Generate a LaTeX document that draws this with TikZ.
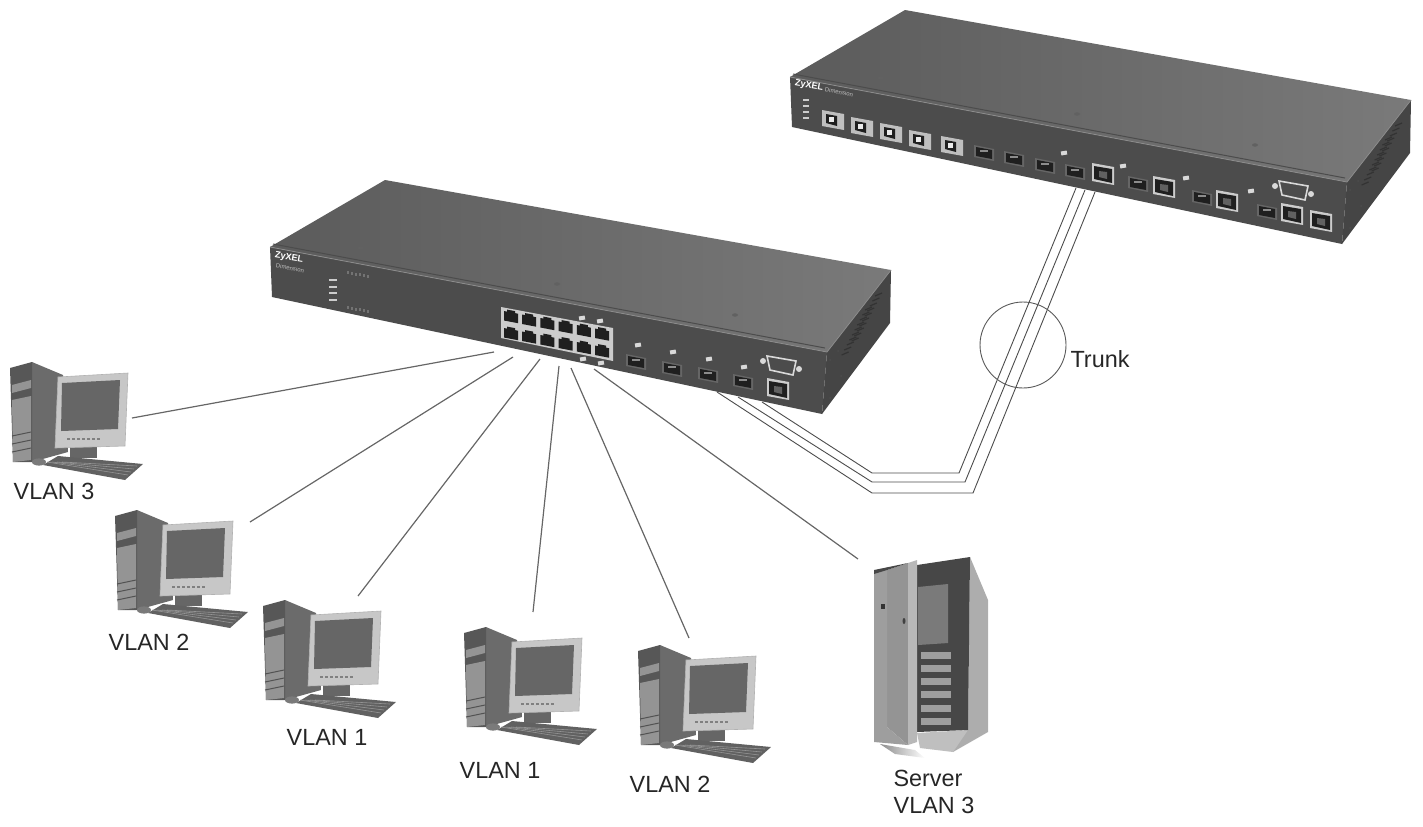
\documentclass[tikz,border=0pt]{standalone}
\usepackage{fontspec}
\setmainfont{Liberation Sans}
\usepackage{tikz}
\usetikzlibrary{calc}
\definecolor{swtop}{gray}{0.42}
\definecolor{swfront}{gray}{0.30}
\definecolor{swside}{gray}{0.27}
\definecolor{portdark}{gray}{0.12}
\definecolor{portframe}{gray}{0.80}
\tikzset{
  cable/.style={draw=black!60,line width=0.6pt},
  trunkline/.style={draw=black!70,line width=0.45pt},
  vlanlabel/.style={font=\fontsize{11.7}{13}\selectfont,text=black!85,inner sep=0pt},
  logotext/.style={font=\bfseries\fontsize{4.6}{5}\selectfont,text=white,inner sep=0pt,rotate=-10},
  tinytext/.style={font=\fontsize{3}{3}\selectfont,text=black!25,inner sep=0pt,rotate=-10},
  tagbox/.style={fill=black!15,minimum width=3pt,minimum height=2pt,inner sep=0pt,rotate=10},
}
% one computer, origin at the top left of the tower
\newcommand{\pcicon}[2]{
  \begin{scope}[shift={(#1,#2)}]
    \fill[black!58] (22,0) -- (53,13) -- (58,90) -- (22,100) -- cycle;
    \fill[black!66] (0,6) -- (22,0) -- (22,100) -- (3,100) -- cycle;
    \fill[black!42] (2,23) -- (21,18) -- (21,26) -- (2,31) -- cycle;
    \fill[black!42] (2,38) -- (21,34) -- (21,98) -- (3,100) -- cycle;
    \foreach \yy in {72,80,88} \draw[black!68,line width=0.5pt] (2,\yy+2) -- (21,\yy-2);
    \fill[black!60] (60,84) rectangle (87,96);
    \fill[black!22,draw=black!30,line width=0.3pt] (48,15) -- (118,11) -- (115,84) -- (45,86) -- cycle;
    \fill[black!60] (52,21) -- (110,18) -- (108,67) -- (51,69) -- cycle;
    \foreach \xx in {57,62,...,88} \fill[black!50] (\xx,76) rectangle ++(3,1.6);
    \fill[black!62] (33,103) -- (48,94) -- (133,102) -- (115,118) -- cycle;
    \foreach \yy in {0,1,2,3} \draw[black!42,line width=0.3pt] ($(37,102)+(\yy*5,-2)$) -- ($(118,113)+(\yy*3,-3*\yy)$);
    \fill[black!52] (29,100) ellipse (7 and 3.6);
  \end{scope}
}
% housing of a switch, origin at the back corner of the top
\newcommand{\switchbox}[2]{
  \begin{scope}[shift={(#1,#2)}]
    \shade[left color=swtop!85!black,right color=swtop!90!white] (0,0) -- (506,90) -- (442,172) -- (-115,67) -- cycle;
    \fill[swfront] (-115,67) -- (442,172) -- (437,234) -- (-113,117) -- cycle;
    \fill[swside] (442,172) -- (506,90) -- (505,143) -- (437,234) -- cycle;
    \draw[black!45,line width=0.4pt] (-115,67) -- (442,172) -- (506,90);
    \draw[black!70,line width=0.5pt] (-112,64) -- (440,168);
    \foreach \kk in {0,1,...,9}
      \draw[black!80,line width=0.6pt] ($(497,113)+(-2.6*\kk,5*\kk)$) -- ++(-7,3);
    \foreach \kk in {0,1,...,9}
      \draw[black!80,line width=0.6pt] ($(487,127)+(-2.6*\kk,5*\kk)$) -- ++(-7,3);
    \foreach \sx/\sy in {-24/68,172/104,350/135} \fill[black!62] (\sx,\sy) ellipse (3 and 1.7);
    \foreach \sx/\sy in {445/180,453/171,456/196,445/218} \fill[black!70] (\sx,\sy) circle (1);
  \end{scope}
}
\newcommand{\sfpport}[2]{
  \fill[black!60] (#1-10,#2-8) -- (#1+10,#2-4) -- (#1+10,#2+8) -- (#1-10,#2+4) -- cycle;
  \fill[portdark] (#1-8,#2-6) -- (#1+8,#2-3) -- (#1+8,#2+6) -- (#1-8,#2+3) -- cycle;
  \fill[black!45] (#1-4,#2-3) rectangle (#1+4,#2-1);
}
\newcommand{\sfpopen}[2]{
  \fill[black!25] (#1-11,#2-10) -- (#1+11,#2-6) -- (#1+11,#2+10) -- (#1-11,#2+6) -- cycle;
  \fill[portdark] (#1-7,#2-6) -- (#1+4,#2-4) -- (#1+4,#2+6) -- (#1-7,#2+3) -- cycle;
  \fill[black!8] (#1-4,#2-3) rectangle (#1+1,#2+2);
}
\newcommand{\rjport}[2]{
  \fill[portframe] (#1-11,#2-11) -- (#1+11,#2-7) -- (#1+11,#2+11) -- (#1-11,#2+7) -- cycle;
  \fill[portdark] (#1-9,#2-8) -- (#1+9,#2-5) -- (#1+9,#2+9) -- (#1-9,#2+5) -- cycle;
  \fill[black!62] (#1-4,#2-3) -- (#1+4,#2-2) -- (#1+4,#2+5) -- (#1-4,#2+3) -- cycle;
}
\newcommand{\serialport}[2]{
  \fill[black!15] (#1-18,#2-4) circle (3);
  \fill[black!15] (#1+18,#2+4) circle (3);
  \fill[black!70,draw=black!15,line width=0.8pt] (#1-14,#2-9) -- (#1+15,#2-4) -- (#1+12,#2+10) -- (#1-11,#2+5) -- cycle;
}
\begin{document}
\begin{tikzpicture}[x=0.5pt,y=-0.5pt]
  \useasboundingbox (0,0) rectangle (1423,826);

  % trunk between the switches
  \coordinate (t1a) at (717,392);
  \coordinate (t1b) at (872,493);
  \coordinate (t1c) at (973,493);
  \coordinate (t1d) at (1095,192);
  \coordinate (t2a) at (738,397);
  \coordinate (t2b) at (872,482);
  \coordinate (t2c) at (965,482);
  \coordinate (t2d) at (1085,190);
  \coordinate (t3a) at (762,402);
  \coordinate (t3b) at (872,473);
  \coordinate (t3c) at (959,473);
  \coordinate (t3d) at (1076,188);
  \draw[trunkline] (t1a) -- (t1b) -- (t1c) -- (t1d);
  \draw[trunkline] (t2a) -- (t2b) -- (t2c) -- (t2d);
  \draw[trunkline] (t3a) -- (t3b) -- (t3c) -- (t3d);

  \switchbox{385}{180}
  \switchbox{905}{10}

  % switch one
  \node[logotext] (logoa) at (289,258) {ZyXEL};
  \node[tinytext] (dima) at (290,268) {Dimension};
  \foreach \ly in {279,286,292,299} \fill[black!20] (329,\ly) rectangle ++(8,1.6);
  \foreach \kk in {0,1,...,5} {
    \fill[black!55] ($(347,271)+(4*\kk,0.8*\kk)$) rectangle ++(1.5,3);
    \fill[black!55] ($(347,306)+(4*\kk,0.8*\kk)$) rectangle ++(1.5,3);
  }
  \fill[portframe] (501,307) -- (613,328) -- (613,361) -- (501,338) -- cycle;
  \foreach \kk in {0,1,...,5} {
    \foreach \ry in {311,328} {
      \fill[portdark] ($(504,\ry)+(18.2*\kk,3.5*\kk)$) -- ++(3,0.6) -- ++(0,-2) -- ++(8,1.5) -- ++(0,2) -- ++(3,0.6) -- ++(0,9.5) -- ++(-14,-2.7) -- cycle;
    }
  }
  \foreach \tx/\ty in {582/318,600/321,583/359,601/363,638/345,673/352,709/359,744/367}
    \node[tagbox] at (\tx,\ty) {};
  \sfpport{636}{362}
  \sfpport{672}{369}
  \sfpport{708}{375}
  \sfpport{743}{382}
  \serialport{781}{365}
  \rjport{778}{389}

  % switch two
  \node[logotext] (logob) at (809,86) {ZyXEL};
  \node[tinytext] (dimb) at (839,92) {Dimension};
  \foreach \ly in {99,105,111,117} \fill[black!20] (803,\ly) rectangle ++(6,1.5);
  \foreach \px/\py in {833/120,862/127,891/133,920/140,952/146}
    {\sfpopen{\px}{\py}}
  \foreach \px/\py in {984/153,1014/159,1045/166,1075/172,1138/184,1202/198,1267/212}
    {\sfpport{\px}{\py}}
  \foreach \px/\py in {1103/174,1164/187,1227/201,1292/214,1321/221}
    {\rjport{\px}{\py}}
  \foreach \tx/\ty in {1064/153,1123/166,1186/178,1251/191}
    \node[tagbox] at (\tx,\ty) {};
  \serialport{1293}{190}

  % computers
  \pcicon{10}{362}
  \pcicon{115}{510}
  \pcicon{263}{600}
  \pcicon{464}{627}
  \pcicon{638}{645}

  % server tower
  \shade[left color=black!45,right color=white] (880,744) -- (915,750) -- (925,758) -- (895,754) -- cycle;
  \fill[black!32] (970,557) -- (988,600) -- (988,732) -- (953,752) -- (953,735) -- (968,730) -- cycle;
  \fill[black!25] (917,733) -- (968,730) -- (953,752) -- (920,748) -- cycle;
  \fill[black!72] (917,565) -- (970,557) -- (968,730) -- (917,732) -- cycle;
  \fill[black!52] (918,587) -- (948,584) -- (948,643) -- (918,645) -- cycle;
  \foreach \yy in {656,669,682,695,709,722}
    \fill[black!38] (921,\yy-4) -- (951,\yy-4) -- (951,\yy+3) -- (921,\yy+3) -- cycle;
  \fill[black!42] (887,570) -- (908,563) -- (908,745) -- (887,727) -- cycle;
  \fill[black!28] (908,563) -- (917,560) -- (917,742) -- (908,745) -- cycle;
  \fill[black!38] (874,570) -- (887,570) -- (887,727) -- (908,745) -- (874,742) -- cycle;
  \fill[black!72] (874,570) -- (908,563) -- (887,570) -- (874,574) -- cycle;
  \fill[black!80] (881,604) rectangle (885,609);
  \fill[black!75] (904,621) ellipse (1.5 and 3);

  % connections to the switch
  \coordinate (pcaend) at (132,418);
  \coordinate (pcbend) at (250,522);
  \coordinate (pccend) at (358,596);
  \coordinate (pcdend) at (533,612);
  \coordinate (pceend) at (689,638);
  \coordinate (srvend) at (858,559);
  \coordinate (porta) at (494,352);
  \coordinate (portb) at (513,357);
  \coordinate (portc) at (540,359);
  \coordinate (portd) at (559,366);
  \coordinate (porte) at (571,368);
  \coordinate (portf) at (594,369);
  \draw[cable] (pcaend) -- (porta);
  \draw[cable] (pcbend) -- (portb);
  \draw[cable] (pccend) -- (portc);
  \draw[cable] (pcdend) -- (portd);
  \draw[cable] (pceend) -- (porte);
  \draw[cable] (srvend) -- (portf);

  % trunk mark
  \node[draw=black!65,line width=0.45pt,circle,minimum size=43pt,inner sep=0pt] (ring) at (1023,345) {};
  \node[vlanlabel] (trunk) at (1100,359) {Trunk};

  \node[vlanlabel] (laba) at (54,491) {VLAN 3};
  \node[vlanlabel] (labb) at (149,642) {VLAN 2};
  \node[vlanlabel] (labc) at (327,737) {VLAN 1};
  \node[vlanlabel] (labd) at (500,770) {VLAN 1};
  \node[vlanlabel] (labe) at (670,784) {VLAN 2};
  \node[vlanlabel] (labf) at (928,778) {Server};
  \node[vlanlabel] (labg) at (934,805) {VLAN 3};
\end{tikzpicture}
\end{document}
